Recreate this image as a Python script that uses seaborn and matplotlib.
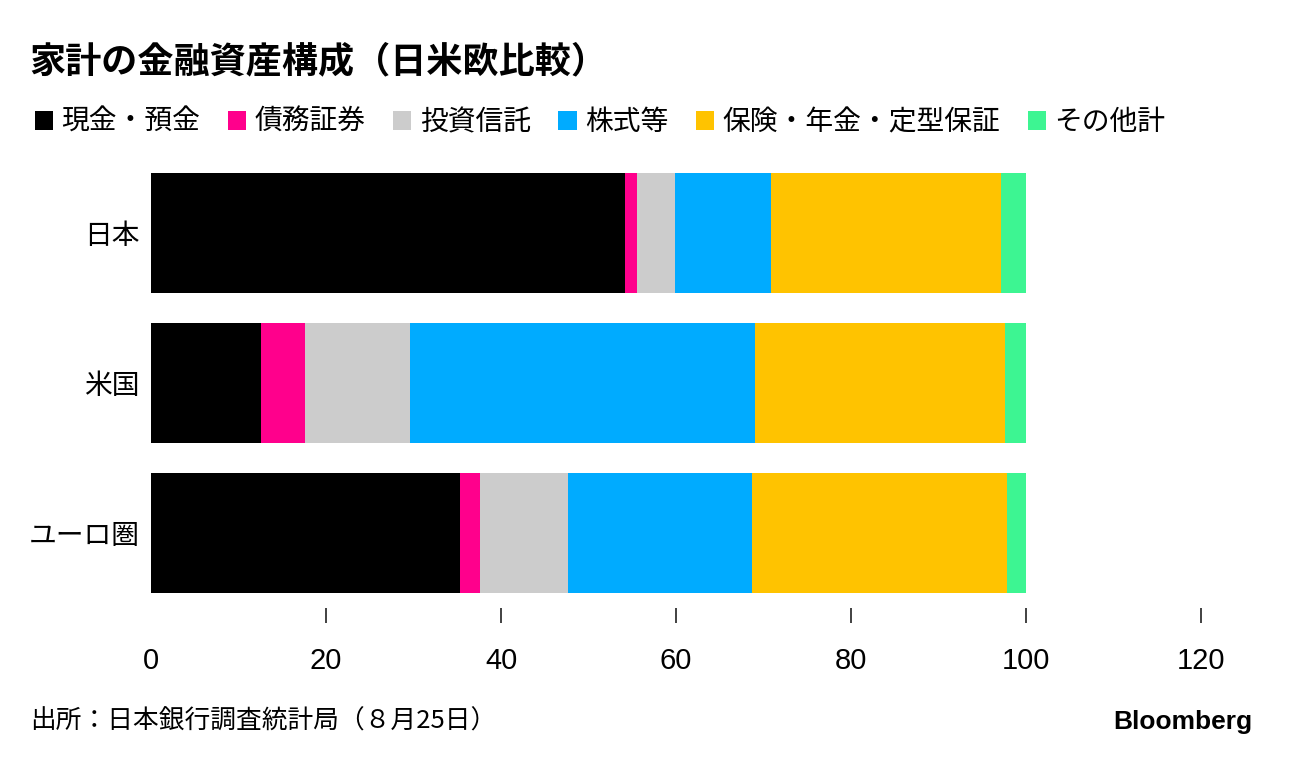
import numpy as np
import pandas as pd
import matplotlib
matplotlib.use("Agg")
import matplotlib.pyplot as plt
import seaborn as sns
from matplotlib.patches import Patch

countries = ["日本", "米国", "ユーロ圏"]
series = ["現金・預金", "債務証券", "投資信託", "株式等", "保険・年金・定型保証", "その他計"]
cash = [54.2, 12.6, 35.3]
debt = [1.3, 5.0, 2.3]
funds = [4.4, 12.0, 10.1]
equity = [11.0, 39.4, 21.0]
insurance = [26.2, 28.6, 29.1]
other = [2.9, 2.4, 2.2]
colors = ["#000000", "#FF008C", "#CCCCCC", "#00ABFF", "#FFC300", "#3DF592"]

df = pd.DataFrame({"国": countries, series[0]: cash, series[1]: debt, series[2]: funds,
                   series[3]: equity, series[4]: insurance, series[5]: other})
cum = df[series].cumsum(axis=1)

sns.set_theme(style="white")
plt.rcParams["font.family"] = ["Noto Sans CJK JP", "DejaVu Sans"]
plt.rcParams["text.color"] = "black"

fig = plt.figure(figsize=(12.92, 7.66), dpi=100)
ax = fig.add_axes([151 / 1292, 1 - 608 / 766, 1050 / 1292, 450 / 766])

# stacked bars: draw the running totals from the largest down
for s, c in reversed(list(zip(series, colors))):
    sns.barplot(x=cum[s], y=df["国"], color=c, orient="h", width=0.8,
                saturation=1, ax=ax, linewidth=0)

ax.set_xlim(0, 120)
ax.set_xticks([0, 20, 40, 60, 80, 100, 120])
ax.set_xlabel("")
ax.set_ylabel("")
for sp in ax.spines.values():
    sp.set_visible(False)
ax.tick_params(axis="x", length=11, width=1.3, color="#333333", pad=17,
               labelsize=21, labelcolor="#000000", direction="out", bottom=True)
for lab in ax.get_xticklabels():
    lab.set_family(["Liberation Sans", "DejaVu Sans"])
ax.xaxis.get_major_ticks()[0].tick1line.set_visible(False)
ax.tick_params(axis="y", length=0, pad=8, labelsize=20, labelcolor="#000000")

fig.text(29 / 1292, 1 - 62 / 766, "家計の金融資産構成（日米欧比較）", fontsize=26,
         fontweight="bold", va="center", ha="left")

handles = [Patch(facecolor=c, edgecolor="none") for c in colors]
fig.legend(handles, series, loc="center left", bbox_to_anchor=(24 / 1292, 1 - 122 / 766),
           ncol=6, frameon=False, fontsize=20, handlelength=0.65, handleheight=0.65,
           handletextpad=0.3, columnspacing=1.0, borderaxespad=0)

fig.text(30 / 1292, 1 - 722 / 766, "出所：日本銀行調査統計局（８月25日）", fontsize=18.5,
         va="center", ha="left")
fig.text(1252 / 1292, 1 - 722 / 766, "Bloomberg", fontsize=19, fontweight="bold",
         family=["Liberation Sans", "DejaVu Sans"], va="center", ha="right")

fig.savefig("out.png", dpi=100)
